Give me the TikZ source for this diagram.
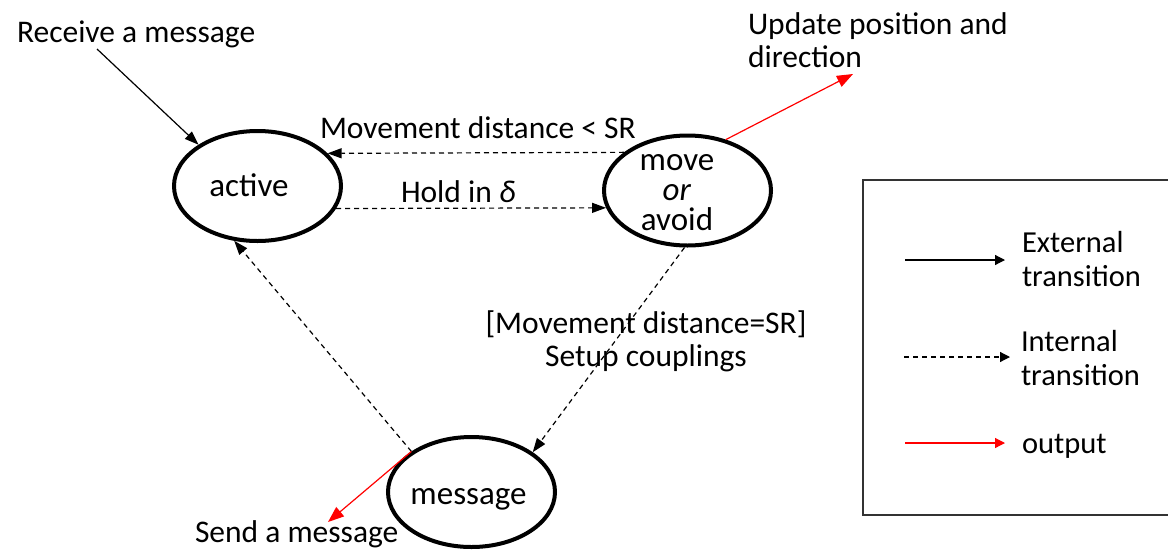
\documentclass[tikz,border=0pt]{standalone}
\usepackage{fontspec}
\setmainfont{Carlito}
\usetikzlibrary{arrows.meta,shapes.geometric}
\begin{document}
\begin{tikzpicture}[x=1pt,y=-1pt,
  every node/.style={font=\fontsize{31.5}{33.4}\selectfont, inner sep=0pt, outer sep=0pt},
  state/.style={ellipse, draw, line width=4pt, minimum width=167pt, minimum height=110pt, outer sep=2pt},
  statetext/.style={font=\fontsize{33}{30}\selectfont},
  legtext/.style={font=\fontsize{30.5}{33.4}\selectfont},
  extarrow/.style={line width=1.2pt, -{Triangle[length=14pt,width=10pt]}},
  intarrow/.style={extarrow, dash pattern=on 5pt off 4pt},
  outarrow/.style={line width=1.2pt, red, -{Triangle[length=16pt,width=12pt]}},
  legext/.style={line width=1.2pt, -{Triangle[length=10pt,width=10pt]}},
  legint/.style={legext, dash pattern=on 5pt off 4pt},
  legout/.style={legext, red},
  legbox/.style={draw=black!80, line width=2pt}]
\useasboundingbox (0,0) rectangle (1168,550);

% states
\node[state] (active) at (257.5,186) {};
\node[state] (move) at (687.5,190.5) {};
\node[state] (message) at (471.5,492) {};
\node[statetext, anchor=base] (activetxt) at (249,196) {active};
\node[statetext, anchor=base] (messagetxt) at (468.5,504) {message};
\node[statetext, align=center, anchor=base] (movetxt) at (677,230) {move\\\textit{or}\\avoid};

% free labels (multi-line ones are placed by their last baseline)
\node[anchor=base west] (recv) at (17,42) {Receive a message};
\node[anchor=base west] (ltsr) at (320,138) {Movement distance < SR};
\node[anchor=base west] (hold) at (401,202) {Hold in \textit{δ}};
\node[anchor=base west, align=left] (update) at (748,67.5) {Update position and\\direction};
\node[anchor=base, align=center] (eqsr) at (646,366.5) {[Movement distance=SR]\\Setup couplings};
\node[anchor=base west] (send) at (195,542) {Send a message};

% free ends of the open connectors
\coordinate (recvfrom) at (97,49);
\coordinate (updto) at (853,74);
\coordinate (sendto) at (328,522);

% transitions
\draw[extarrow] (recvfrom) -- (active.145.9);
\draw[intarrow] (move.149.8) -- (active.25.3);
\draw[intarrow] (active.-16.4) -- (move.192.1);
\draw[intarrow] (move.267.5) -- (message.33.5);
\draw[intarrow] (message.146.8) -- (active.247.2);
\draw[outarrow] (move.53.9) -- (updto);
\draw[outarrow] (message.146.8) -- (sendto);

% legend
\draw[legbox] (863,180) rectangle (1185,515);
\coordinate (le1) at (905,260); \coordinate (le2) at (1005,260);
\coordinate (li1) at (904,357); \coordinate (li2) at (1010,357);
\coordinate (lo1) at (905,443); \coordinate (lo2) at (1005,443);
\draw[legext] (le1) -- (le2);
\draw[legint] (li1) -- (li2);
\draw[legout] (lo1) -- (lo2);
\node[legtext, anchor=base west, align=left] (legexttxt) at (1022,286) {External\\transition};
\node[legtext, anchor=base west, align=left] (leginttxt) at (1021,385) {Internal\\transition};
\node[legtext, anchor=base west] (legouttxt) at (1022,453) {output};
\end{tikzpicture}
\end{document}
